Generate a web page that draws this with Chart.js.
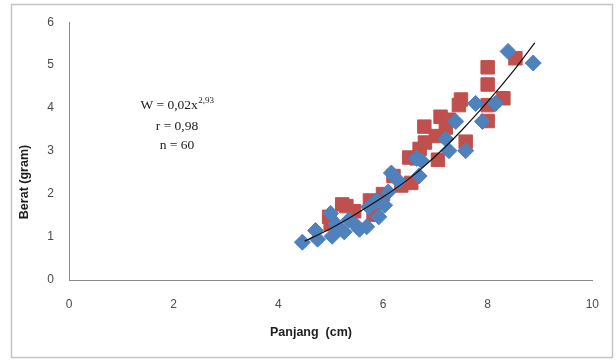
<!DOCTYPE html>
<html>
<head>
<meta charset="utf-8">
<script src="https://cdn.jsdelivr.net/npm/chart.js@4/dist/chart.umd.min.js"></script>
<style>
html,body{margin:0;padding:0;background:#fff;}
#wrap{width:616px;height:360px;position:relative;}
</style>
</head>
<body>
<div id="wrap"><canvas id="c" width="616" height="360"></canvas></div>
<script>
// Series 1 (red squares)
const redX = [4.97,5.00,5.22,5.30,5.45,5.82,5.75,6.00,6.20,6.35,6.54,6.50,6.64,6.70,6.79,6.80,7.01,7.05,7.10,7.20,7.26,7.45,7.49,7.58,8.00,8.00,8.00,8.00,8.30,8.53];
const redY = [1.47,1.30,1.76,1.72,1.60,1.52,1.85,2.00,2.42,2.20,2.26,2.85,2.83,3.05,3.57,3.20,3.35,2.80,3.80,3.55,3.73,4.07,4.20,3.22,4.95,4.55,4.07,3.70,4.23,5.16];
// Series 2 (blue diamonds)
const blueX = [4.46,4.71,4.75,5.00,5.03,5.10,5.26,5.35,5.46,5.55,5.69,5.73,5.92,5.88,6.03,6.10,6.16,6.30,6.64,6.69,6.73,7.20,7.26,7.39,7.58,7.77,7.90,8.15,8.39,8.87];
const blueY = [0.88,1.15,0.95,1.55,1.02,1.30,1.12,1.40,1.30,1.18,1.24,1.70,1.47,1.85,1.74,2.05,2.49,2.30,2.83,2.42,2.78,3.28,3.01,3.69,3.01,4.11,3.69,4.11,5.32,5.05];
// Power trend line
const trendX = [4.5,5.0,5.5,6.0,6.5,7.0,7.5,8.0,8.5,8.9];
const trendY = [0.90,1.20,1.55,1.93,2.36,2.88,3.48,4.15,4.88,5.52];
// Axis ticks
const xTicks = [0,2,4,6,8,10];
const yTicks = [0,1,2,3,4,5,6];
// Texts
const xTitle = 'Panjang  (cm)';
const yTitle = 'Berat (gram)';
const eqMain = 'W = 0,02x';
const eqExp = '2,93';
const rText = 'r = 0,98';
const nText = 'n = 60';

const zip = (xs, ys) => xs.map((x, i) => ({x: x, y: ys[i]}));
const SERIF = '"Liberation Serif", "Times New Roman", serif';

const decor = {
  id: 'decor',
  beforeDraw(chart) {
    const ctx = chart.ctx;
    ctx.save();
    ctx.fillStyle = '#ffffff';
    ctx.fillRect(0, 0, chart.width, chart.height);
    ctx.strokeStyle = '#c4c4c4';
    ctx.lineWidth = 1.5;
    ctx.strokeRect(11.5, 4.5, 601, 353);
    ctx.restore();
  },
  afterDraw(chart) {
    const ctx = chart.ctx;
    ctx.save();
    ctx.fillStyle = '#1e1e1e';
    ctx.font = 'bold 12.5px "Liberation Sans", Arial, sans-serif';
    ctx.textAlign = 'center';
    ctx.textBaseline = 'middle';
    ctx.fillText(xTitle, 311, 333);
    ctx.save();
    ctx.translate(25, 182);
    ctx.rotate(-Math.PI / 2);
    ctx.fillText(yTitle, 0, 0);
    ctx.restore();
    // equation annotation
    ctx.fillStyle = '#1a1a1a';
    ctx.textAlign = 'left';
    ctx.font = '13.5px ' + SERIF;
    const wMain = ctx.measureText(eqMain).width;
    ctx.font = '9px ' + SERIF;
    const wExp = ctx.measureText(eqExp).width;
    const start = 177 - (wMain + wExp) / 2;
    ctx.font = '13.5px ' + SERIF;
    ctx.fillText(eqMain, start, 105);
    ctx.font = '9px ' + SERIF;
    ctx.fillText(eqExp, start + wMain + 0.5, 101);
    ctx.font = '13.5px ' + SERIF;
    ctx.textAlign = 'center';
    ctx.fillText(rText, 177, 126);
    ctx.fillText(nText, 177, 145);
    ctx.restore();
  }
};

new Chart(document.getElementById('c'), {
  type: 'scatter',
  data: {
    datasets: [
      {
        label: 'trend',
        type: 'line',
        data: zip(trendX, trendY),
        borderColor: '#111111',
        borderWidth: 1.2,
        pointRadius: 0,
        fill: false,
        tension: 0.4,
        cubicInterpolationMode: 'monotone',
        order: 0
      },
      {
        label: 'Seri 2',
        data: zip(blueX, blueY),
        pointStyle: 'rectRot',
        pointRadius: 8,
        backgroundColor: '#4F81BD',
        borderColor: '#4F81BD',
        borderWidth: 1,
        order: 1
      },
      {
        label: 'Seri 1',
        data: zip(redX, redY),
        pointStyle: 'rect',
        pointRadius: 9.5,
        backgroundColor: '#C0504D',
        borderColor: '#C0504D',
        borderWidth: 1,
        order: 2
      }
    ]
  },
  options: {
    responsive: false,
    animation: false,
    layout: { padding: { left: 0, top: 15, right: 18, bottom: 0 } },
    plugins: { legend: { display: false }, tooltip: { enabled: false } },
    scales: {
      x: {
        type: 'linear',
        min: 0, max: 10,
        afterBuildTicks(scale) { scale.ticks = xTicks.map(v => ({value: v})); },
        afterFit(scale) { scale.height = 80; },
        grid: { display: false, drawTicks: false },
        border: { display: true, color: '#8a8a8a', width: 1 },
        ticks: {
          padding: 17,
          color: '#4a4a4a',
          font: { family: '"Liberation Sans", Arial, sans-serif', size: 12 },
          maxRotation: 0
        }
      },
      y: {
        type: 'linear',
        min: 0, max: 6,
        afterBuildTicks(scale) { scale.ticks = yTicks.map(v => ({value: v})); },
        afterFit(scale) { scale.width = 69; },
        grid: { display: false, drawTicks: false },
        border: { display: true, color: '#8a8a8a', width: 1 },
        ticks: {
          padding: 15,
          color: '#4a4a4a',
          font: { family: '"Liberation Sans", Arial, sans-serif', size: 12 }
        }
      }
    }
  },
  plugins: [decor]
});
</script>
</body>
</html>
